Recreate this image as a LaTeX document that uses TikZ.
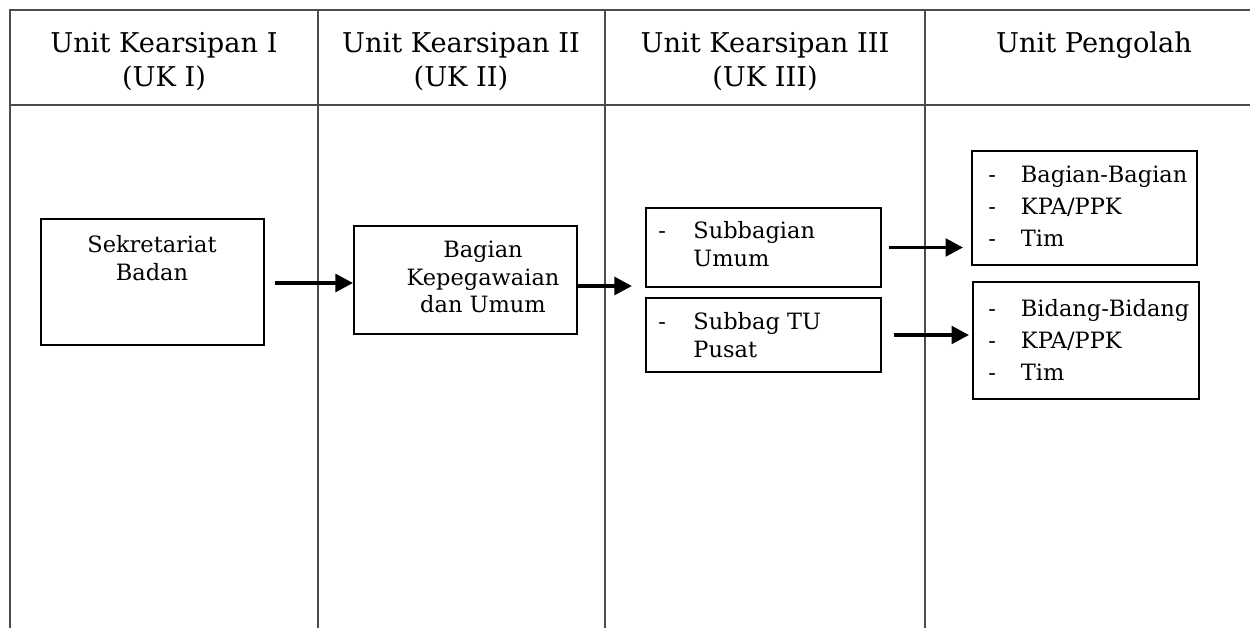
\documentclass[tikz,border=0pt]{standalone}
\usepackage{fontspec}
\setmainfont{DejaVu Serif}
\usetikzlibrary{arrows.meta}
\begin{document}
\begin{tikzpicture}[x=0.02cm,y=-0.02cm,
  grid/.style={draw=black!70,line width=0.6pt},
  box/.style={draw=black,line width=1.1pt,rectangle,inner sep=0pt},
  head/.style={font=\fontsize{15.5}{19.5}\selectfont,align=center,anchor=north,text=black},
  body/.style={font=\fontsize{12.8}{15.8}\selectfont,text=black,inner sep=0pt},
  arr/.style={line width=2.2pt,-{Triangle[length=10pt,width=10pt]}}]
\useasboundingbox (0,0) rectangle (1250,628);
% table
\draw[grid] (1250,10) -- (10,10) -- (10,628);
\draw[grid] (10,105) -- (1250,105);
\foreach \xx in {318,605,925} \draw[grid] (\xx,10) -- (\xx,628);
% headers
\node[head] (h1) at (164,26) {Unit Kearsipan I\\(UK I)};
\node[head] (h2) at (461,26) {Unit Kearsipan II\\(UK II)};
\node[head] (h3) at (765,26) {Unit Kearsipan III\\(UK III)};
\node[head] (h4) at (1094,26) {Unit Pengolah};
% boxes
\node[box,minimum width=4.46cm,minimum height=2.52cm] (sek) at (152.5,282) {};
\node[body,align=center,anchor=north] (sekT) at (152,235) {Sekretariat\\Badan};
\node[box,minimum width=4.46cm,minimum height=2.16cm] (bag) at (465.5,280) {};
\node[body,align=center] (bagT) at (483,277) {Bagian\\Kepegawaian\\dan Umum};
\node[box,minimum width=4.7cm,minimum height=1.58cm] (su) at (763.5,247.5) {};
\node[body,anchor=west] (suT) at (658,247) {\begin{tabular}{@{}l@{\hspace{0.55cm}}l@{}}-&Subbagian\\&Umum\end{tabular}};
\node[box,minimum width=4.7cm,minimum height=1.48cm] (st) at (763.5,335) {};
\node[body,anchor=west] (stT) at (658,338) {\begin{tabular}{@{}l@{\hspace{0.55cm}}l@{}}-&Subbag TU\\&Pusat\end{tabular}};
\node[box,minimum width=4.5cm,minimum height=2.28cm] (tr) at (1084.5,208) {};
\node[body,anchor=west] (trT) at (988,208) {\renewcommand{\arraystretch}{1.15}\begin{tabular}{@{}l@{\hspace{0.5cm}}l@{}}-&Bagian-Bagian\\-&KPA/PPK\\-&Tim\end{tabular}};
\node[box,minimum width=4.52cm,minimum height=2.34cm] (br) at (1086,340.5) {};
\node[body,anchor=west] (brT) at (988,342) {\renewcommand{\arraystretch}{1.15}\begin{tabular}{@{}l@{\hspace{0.5cm}}l@{}}-&Bidang-Bidang\\-&KPA/PPK\\-&Tim\end{tabular}};
% arrows
\coordinate (a2end) at (632,286);
\draw[arr,shorten <=0.2cm] (sek.east |- 0,283) -- (bag.west |- 0,283);
\draw[arr] (bag.east |- 0,286) -- (a2end);
\draw[arr,shorten <=0.14cm,shorten >=0.16cm] (su.east) -- (tr.west |- su.east);
\draw[arr,shorten <=0.24cm,shorten >=0.06cm] (st.east) -- (br.west |- st.east);
\end{tikzpicture}
\end{document}
